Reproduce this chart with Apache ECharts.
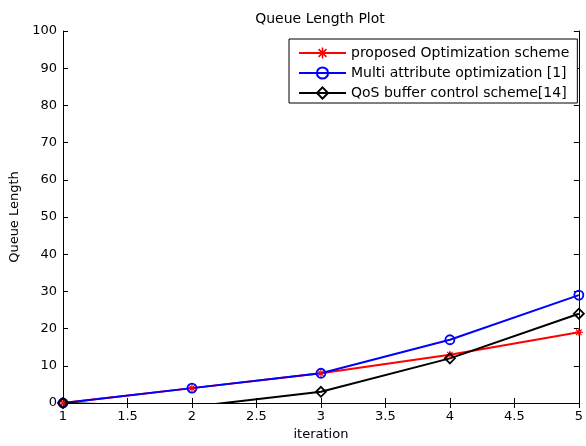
<!DOCTYPE html>
<html>
<head>
<meta charset="utf-8">
<script src="https://cdn.jsdelivr.net/npm/echarts@6/dist/echarts.min.js"></script>
<style>html,body{margin:0;padding:0;background:#fff}#c{width:586px;height:446px}</style>
</head>
<body>
<div id="c"></div>
<script>
const iterations = [1, 2, 3, 4, 5];
const proposed = [0, 4, 8, 13, 19];
const multiAttr = [0, 4, 8, 17, 29];
const qosBuffer = [0, -1, 3, 12, 24];
const seriesNames = ['proposed Optimization scheme', 'Multi attribute optimization [1]', 'QoS buffer control scheme[14]'];

const FONT = 'DejaVu Sans';
const star = 'path://M-0.7,-5L0.7,-5L0.7,5L-0.7,5Z M-5,-0.7L5,-0.7L5,0.7L-5,0.7Z M-3,-4L4,3L3,4L-4,-3Z M3,-4L4,-3L-3,4L-4,3Z';
const pairs = (ys) => iterations.map((x, i) => [x, ys[i]]);

const chart = echarts.init(document.getElementById('c'), null, {renderer: 'canvas'});
const axisLine = {show: true, lineStyle: {color: '#000', width: 1}};
const tick = {show: true, inside: true, length: 5, lineStyle: {color: '#000', width: 1}};
chart.setOption({
  animation: false,
  backgroundColor: '#fff',
  title: {text: 'Queue Length Plot', left: 315, top: 7, textAlign: 'center',
    textStyle: {fontFamily: FONT, fontSize: 14, fontWeight: 'normal', color: '#000'}},
  grid: {left: 63, right: 5, top: 31, bottom: 41},
  legend: {
    left: 289, top: 39, orient: 'vertical', itemGap: 6,
    itemWidth: 47, itemHeight: 14,
    padding: [7, 8, 3, 9],
    backgroundColor: '#fff', borderColor: '#000', borderWidth: 1,
    textStyle: {fontFamily: FONT, fontSize: 14, color: '#000'},
    data: seriesNames
  },
  xAxis: [
    {type: 'value', min: 1, max: 5, interval: 0.5, name: 'iteration', nameLocation: 'middle', nameGap: 25,
      nameTextStyle: {fontFamily: FONT, fontSize: 13, color: '#000'},
      axisLine: axisLine, axisTick: tick, splitLine: {show: false},
      axisLabel: {fontFamily: FONT, fontSize: 13, color: '#000', margin: 7}},
    {type: 'value', position: 'top', min: 1, max: 5, interval: 0.5,
      axisLine: axisLine, axisTick: tick, splitLine: {show: false}, axisLabel: {show: false}}
  ],
  yAxis: [
    {type: 'value', min: 0, max: 100, interval: 10, name: 'Queue Length', nameLocation: 'middle', nameGap: 42,
      nameTextStyle: {fontFamily: FONT, fontSize: 13, color: '#000'},
      axisLine: axisLine, axisTick: tick, splitLine: {show: false},
      axisLabel: {fontFamily: FONT, fontSize: 13, color: '#000', margin: 6}},
    {type: 'value', position: 'right', min: 0, max: 100, interval: 10,
      axisLine: axisLine, axisTick: tick, splitLine: {show: false}, axisLabel: {show: false}}
  ],
  series: [
    {name: seriesNames[0], type: 'line', data: pairs(proposed), symbol: star, symbolSize: 8,
      lineStyle: {color: '#ff0000', width: 2}, itemStyle: {color: '#ff0000'}, clip: true},
    {name: seriesNames[1], type: 'line', data: pairs(multiAttr), symbol: 'circle', symbolSize: 9,
      lineStyle: {color: '#0000ff', width: 2},
      itemStyle: {color: 'rgba(255,255,255,0)', borderColor: '#0000ff', borderWidth: 1.8}, clip: true},
    {name: seriesNames[2], type: 'line', data: pairs(qosBuffer), symbol: 'diamond', symbolSize: 10,
      lineStyle: {color: '#000', width: 2},
      itemStyle: {color: 'rgba(255,255,255,0)', borderColor: '#000', borderWidth: 1.8}, clip: true}
  ]
});
</script>
</body>
</html>
